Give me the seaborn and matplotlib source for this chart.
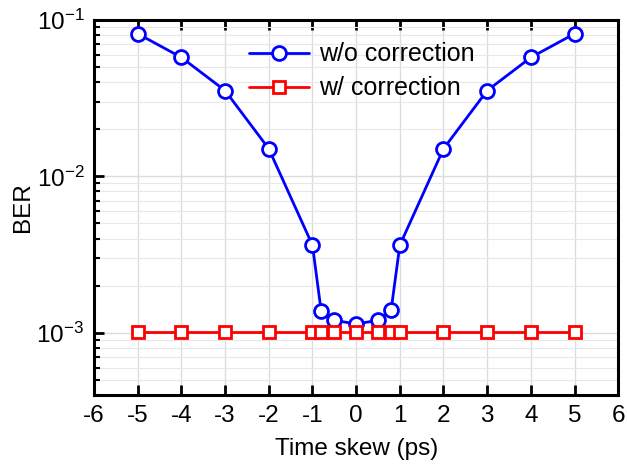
import numpy as np
import pandas as pd
import seaborn as sns
import matplotlib.pyplot as plt
from matplotlib.ticker import LogLocator, NullFormatter, FuncFormatter

# time skew (ps) and BER values
skew = [-5, -4, -3, -2, -1, -0.8, -0.5, 0, 0.5, 0.8, 1, 2, 3, 4, 5]
ber_wo = [0.0815, 0.0575, 0.0353, 0.0150, 0.00363, 0.00137, 0.00120, 0.00114,
          0.00120, 0.00139, 0.00363, 0.0150, 0.0353, 0.0575, 0.0815]
ber_w = [1.01e-3] * len(skew)

sns.set_style('ticks')
plt.rcParams['font.family'] = ['Liberation Sans', 'DejaVu Sans']
plt.rcParams['mathtext.fontset'] = 'custom'
plt.rcParams['mathtext.rm'] = 'Liberation Sans'
plt.rcParams['axes.unicode_minus'] = False
for k in ['text.color', 'axes.labelcolor', 'xtick.color', 'ytick.color']:
    plt.rcParams[k] = 'black'

fig = plt.figure(figsize=(6.27, 4.72), dpi=100)
ax = fig.add_axes([0.15, 0.163, 0.836, 0.795])

sns.lineplot(x=skew, y=ber_wo, ax=ax, color='#0000ff', lw=2, marker='o',
             markersize=10, mfc='white', mec='#0000ff', mew=2,
             label='w/o correction')
sns.lineplot(x=skew, y=ber_w, ax=ax, color='#ff0000', lw=2, marker='s',
             markersize=8.5, mfc='white', mec='#ff0000', mew=2,
             label='w/ correction')

ax.set_yscale('log')
ax.set_xlim(-6, 6)
ax.set_ylim(4e-4, 1e-1)
ax.set_xticks(range(-6, 7))
ax.set_xticklabels([str(v) for v in range(-6, 7)])
ax.yaxis.set_major_locator(LogLocator(base=10))
ax.yaxis.set_major_formatter(FuncFormatter(
    lambda v, p: r'$\mathrm{10^{%d}}$' % round(np.log10(v))))
ax.yaxis.set_minor_locator(LogLocator(base=10, subs=np.arange(2, 10)))
ax.yaxis.set_minor_formatter(NullFormatter())

ax.grid(True, which='major', color='#dcdcdc', lw=1)
ax.grid(True, which='minor', axis='y', color='#e8e8e8', lw=0.8)
ax.set_axisbelow(True)

for s in ax.spines.values():
    s.set_linewidth(2.2)
    s.set_color('black')

ax.tick_params(axis='both', which='major', direction='in', length=7, width=2,
               labelsize=17.5, pad=7)
ax.tick_params(axis='y', which='minor', direction='in', length=4, width=1.5)
ax.tick_params(axis='x', top=True)

ax.set_xlabel('Time skew (ps)', fontsize=17.5, labelpad=8)
ax.set_ylabel('BER', fontsize=17.5, labelpad=2)

ax.legend(loc='upper center', bbox_to_anchor=(0.51, 1.0), frameon=False,
          fontsize=18, handlelength=2.4, labelspacing=0.4, handletextpad=0.4)

fig.savefig('out.png', dpi=100)
